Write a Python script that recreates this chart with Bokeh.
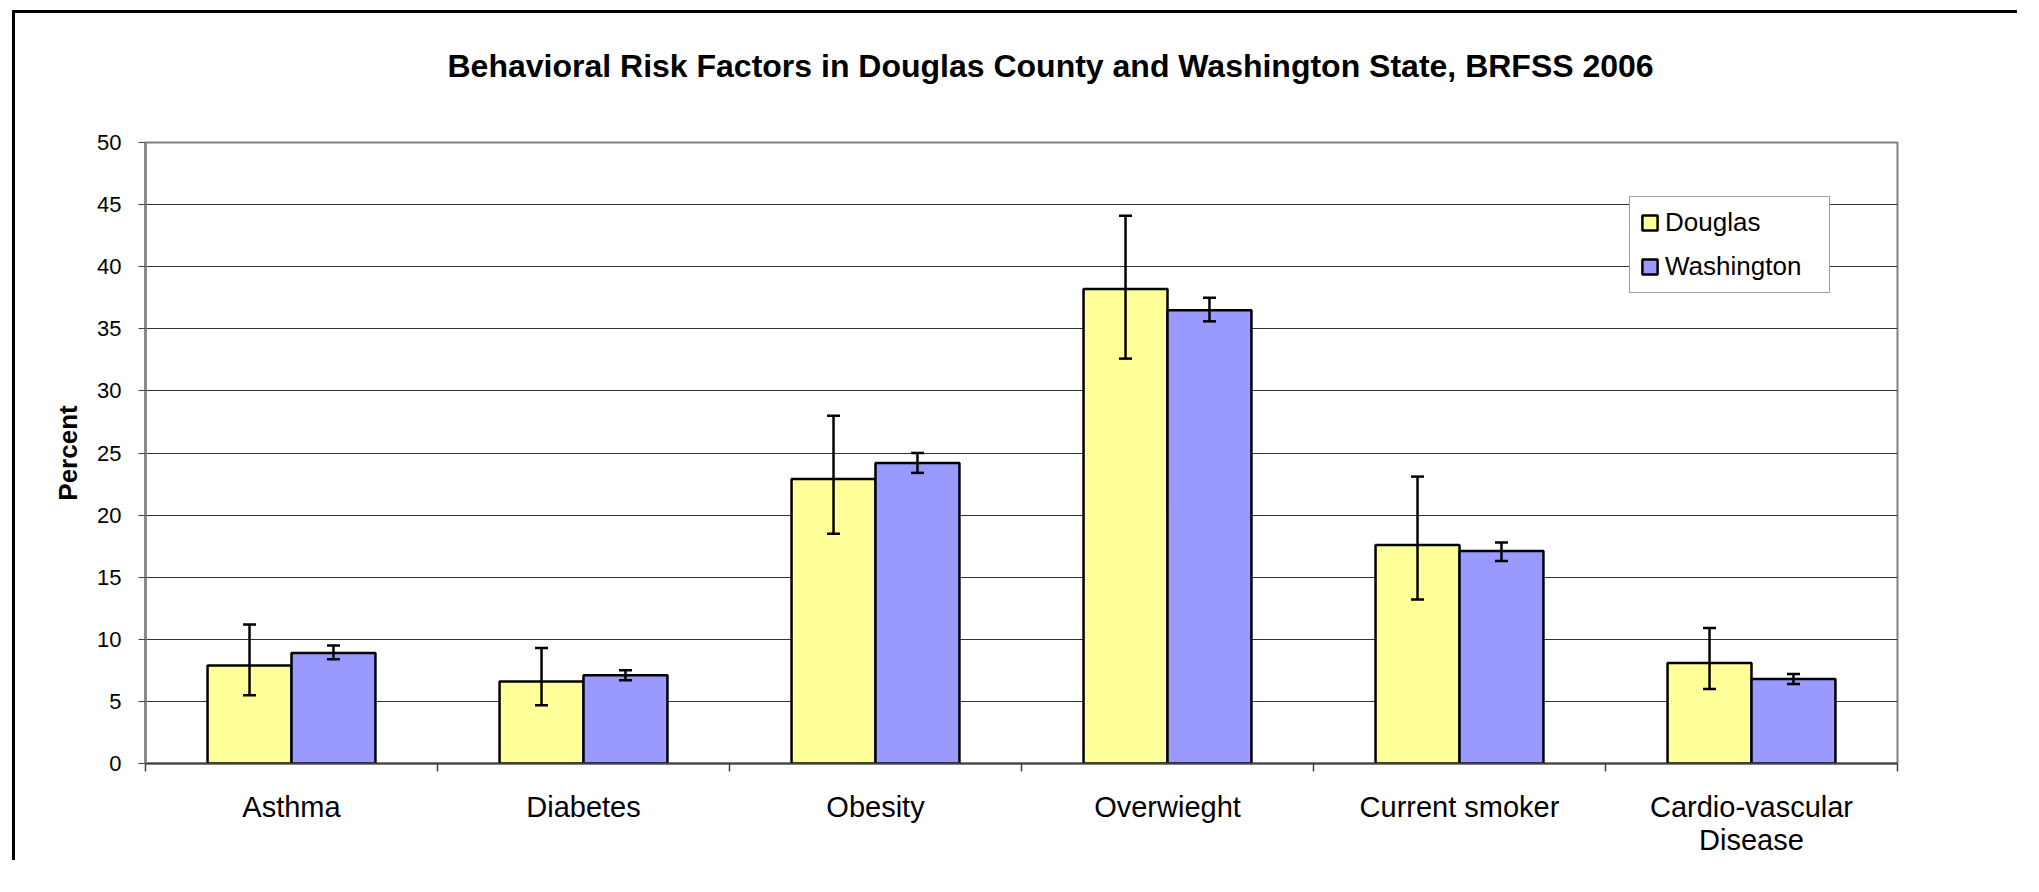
import numpy as np
from bokeh.plotting import figure
from bokeh.models import (ColumnDataSource, Whisker, TeeHead, FixedTicker, Range1d,
                          Legend, LegendItem, InlineStyleSheet, Title)
from bokeh.embed import file_html
from bokeh.resources import INLINE

# ---- data ----
categories = ["Asthma", "Diabetes", "Obesity", "Overwieght", "Current smoker",
              "Cardio-vascular\nDisease"]
douglas = [7.9, 6.6, 22.9, 38.2, 17.6, 8.1]
douglas_lo = [5.5, 4.7, 18.5, 32.6, 13.2, 6.0]
douglas_hi = [11.2, 9.3, 28.0, 44.1, 23.1, 10.9]
washington = [8.9, 7.1, 24.2, 36.5, 17.1, 6.8]
washington_lo = [8.4, 6.7, 23.4, 35.6, 16.3, 6.4]
washington_hi = [9.5, 7.5, 25.0, 37.5, 17.8, 7.2]
y_ticks = [0, 5, 10, 15, 20, 25, 30, 35, 40, 45, 50]
series_names = ["Douglas", "Washington"]
title_text = "Behavioral Risk Factors in Douglas County and Washington State, BRFSS 2006"

FONT = "Liberation Sans"
n = len(categories)
idx = np.arange(n)
bw = 0.2875
centers = idx + 0.5

src_d = ColumnDataSource(dict(x=centers - bw / 2, top=douglas, lo=douglas_lo, hi=douglas_hi))
src_w = ColumnDataSource(dict(x=centers + bw / 2, top=washington, lo=washington_lo, hi=washington_hi))

p = figure(width=2005, height=850, x_range=Range1d(0, n), y_range=Range1d(0, 50),
           output_backend="svg", toolbar_location=None,
           min_border_left=130, min_border_right=123, min_border_top=129, min_border_bottom=100)
p.stylesheets = [InlineStyleSheet(css=":host { margin-left: 12px; margin-top: 10px; "
                                      "border-left: 3px solid black; border-top: 3px solid black; "
                                      "border-right: none; border-bottom: none; }")]

# spacer between frame and title (keeps title high without moving the frame)
spacer = Title(text=" ", text_font_size="2px", standoff=50)
p.add_layout(spacer, "above")

p.title.text = title_text
p.title.text_font = FONT
p.title.text_font_size = "32px"
p.title.text_font_style = "bold"
p.title.align = "left"
p.title.offset = 302
p.title.standoff = 10
p.title.text_color = "black"

p.outline_line_color = "#808080"
p.outline_line_width = 2
p.background_fill_color = "white"
p.border_fill_color = "white"

# grid
p.xgrid.visible = False
p.ygrid.ticker = FixedTicker(ticks=y_ticks)
p.ygrid.grid_line_color = "#333333"
p.ygrid.grid_line_width = 1.2

# y axis
p.yaxis.ticker = FixedTicker(ticks=y_ticks)
p.yaxis.axis_label = "Percent"
p.yaxis.axis_label_text_font = FONT
p.yaxis.axis_label_text_font_size = "26px"
p.yaxis.axis_label_text_font_style = "bold"
p.yaxis.axis_label_text_color = "black"
p.yaxis.axis_label_standoff = 11
p.yaxis.major_label_text_font = FONT
p.yaxis.major_label_text_font_size = "22px"
p.yaxis.major_label_text_color = "black"
p.yaxis.major_label_standoff = 17
p.yaxis.major_tick_in = 0
p.yaxis.major_tick_out = 7
p.yaxis.major_tick_line_color = "#404040"
p.yaxis.minor_tick_line_color = None
p.yaxis.axis_line_color = "#808080"
p.yaxis.axis_line_width = 2.5

# x axis
label_overrides = {float(c): lab for c, lab in zip(centers, categories)}
p.xaxis.ticker = FixedTicker(ticks=[float(c) for c in centers],
                             minor_ticks=[float(b) for b in range(n + 1)])
p.xaxis.major_label_overrides = label_overrides
p.xaxis.major_label_text_font = FONT
p.xaxis.major_label_text_font_size = "29px"
p.xaxis.major_label_text_color = "black"
p.xaxis.major_label_text_line_height = 1.05
p.xaxis.major_label_standoff = 19
p.xaxis.major_tick_in = 0
p.xaxis.major_tick_out = 0
p.xaxis.minor_tick_in = 0
p.xaxis.minor_tick_out = 8
p.xaxis.minor_tick_line_color = "#404040"
p.xaxis.minor_tick_line_width = 1.5
p.xaxis.axis_line_color = "#404040"
p.xaxis.axis_line_width = 2

# bars
r_d = p.vbar(x="x", top="top", bottom=0, width=bw, source=src_d,
             fill_color="#FFFF99", line_color="black", line_width=2.5)
r_w = p.vbar(x="x", top="top", bottom=0, width=bw, source=src_w,
             fill_color="#9999FF", line_color="black", line_width=2.5)

for src in (src_d, src_w):
    wk = Whisker(base="x", upper="hi", lower="lo", source=src,
                 line_color="black", line_width=2.5,
                 upper_head=TeeHead(size=13, line_color="black", line_width=2.5),
                 lower_head=TeeHead(size=13, line_color="black", line_width=2.5))
    wk.level = "overlay"
    p.add_layout(wk)

legend = Legend(items=[LegendItem(label=series_names[0], renderers=[r_d]),
                       LegendItem(label=series_names[1], renderers=[r_w])],
                location=(1484, 470))
legend.border_line_color = "#404040"
legend.border_line_width = 1.5
legend.background_fill_color = "white"
legend.background_fill_alpha = 1.0
legend.label_text_font = FONT
legend.label_text_font_size = "26px"
legend.label_text_color = "black"
legend.glyph_width = 19
legend.glyph_height = 19
legend.label_height = 19
legend.label_width = 154
legend.label_standoff = 6
legend.spacing = 13
legend.padding = 10
legend.margin = 0
p.add_layout(legend)

open("out.html", "w").write(file_html(p, INLINE))
